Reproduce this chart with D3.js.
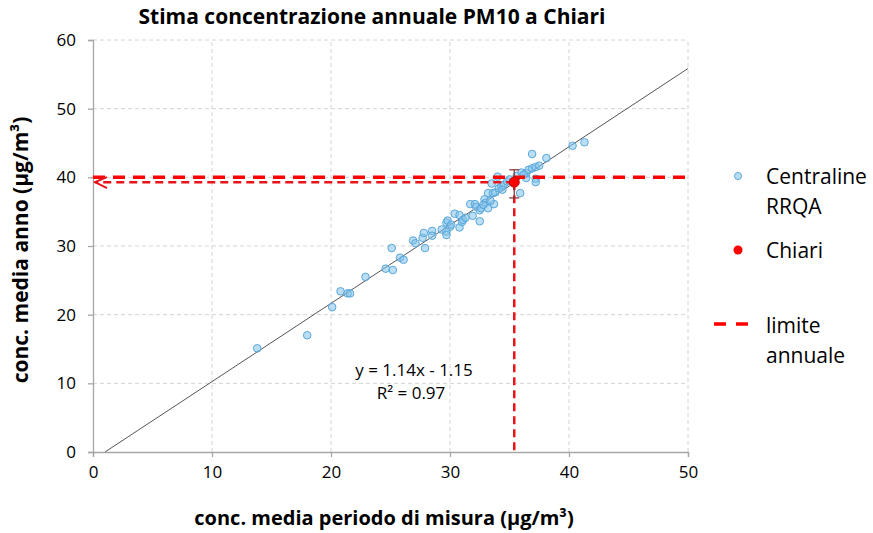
<!DOCTYPE html>
<html>
<head>
<meta charset="utf-8">
<script src="https://cdn.jsdelivr.net/npm/d3@7"></script>
<style>
  body { margin: 0; background: #fff; }
  text { font-family: "Open Sans", "Liberation Sans", sans-serif; fill: #000; }
</style>
</head>
<body>
<svg id="chart" width="873" height="533"></svg>
<script>
// stations RRQA: period mean (x) vs annual mean (y)
var stationX = [13.8, 18.0, 20.1, 20.8, 21.4, 21.6, 22.9, 24.6, 25.2, 25.1, 25.8, 26.1, 26.9, 27.1, 27.7, 27.8, 27.9, 28.5, 28.5, 29.3,
                29.7, 29.8, 29.7, 29.7, 30.0, 30.1, 30.4, 30.8, 30.8, 31.0, 31.1, 31.3, 31.7, 31.9, 32.1, 32.2, 32.5, 32.5, 32.6, 32.9,
                33.0, 33.2, 33.2, 33.5, 33.6, 33.8, 33.7, 34.0, 34.1, 34.3, 34.5, 34.8, 35.0, 35.9, 36.0, 36.4, 36.4, 36.6, 36.9, 36.9,
                37.2, 37.2, 37.2, 37.5, 38.1, 40.3, 41.3, 33.4, 32.8, 34.4, 35.6, 36.2];
var stationY = [15.1, 17.0, 21.1, 23.4, 23.1, 23.1, 25.5, 26.7, 26.5, 29.7, 28.3, 28.0, 30.8, 30.4, 31.2, 31.9, 29.7, 32.2, 31.5, 32.4,
                33.4, 33.7, 32.1, 31.6, 32.8, 33.1, 34.7, 34.5, 32.7, 33.5, 33.8, 34.1, 36.1, 34.4, 36.1, 35.7, 33.6, 35.2, 35.5, 36.8,
                36.3, 37.7, 35.5, 39.1, 37.7, 37.8, 36.1, 40.1, 38.4, 38.7, 38.9, 39.4, 39.7, 37.7, 40.7, 39.9, 40.6, 41.1, 41.3, 43.4,
                39.8, 39.3, 41.5, 41.7, 42.8, 44.6, 45.1, 36.6, 36.0, 38.2, 40.2, 40.4];

// Chiari estimate
var chiariX = 35.4;
var chiariY = 39.3;
var chiariErrLow = 37.0;
var chiariErrHigh = 41.1;

var limitValue = 40;
var trendSlope = 1.14;
var trendIntercept = -1.15;

var xTicks = [0, 10, 20, 30, 40, 50];
var yTicks = [0, 10, 20, 30, 40, 50, 60];

var svg = d3.select("#chart");

var x = d3.scaleLinear().domain([0, 50]).range([93, 688]);
var y = d3.scaleLinear().domain([0, 60]).range([452, 40]);

// grid
svg.append("g").selectAll("line").data(xTicks.slice(1)).enter().append("line")
    .attr("x1", function(d) { return x(d) }).attr("x2", function(d) { return x(d) })
    .attr("y1", y(0)).attr("y2", y(60))
    .attr("stroke", "#d4d4d4").attr("stroke-dasharray", "4,3");
svg.append("g").selectAll("line").data(yTicks.slice(1)).enter().append("line")
    .attr("x1", x(0)).attr("x2", x(50))
    .attr("y1", function(d) { return y(d) }).attr("y2", function(d) { return y(d) })
    .attr("stroke", "#d4d4d4").attr("stroke-dasharray", "4,3");

// axes
var xAxis = svg.append("g").attr("transform", "translate(0," + y(0) + ")")
    .call(d3.axisBottom(x).tickValues(xTicks).tickSize(5).tickPadding(9));
var yAxis = svg.append("g").attr("transform", "translate(" + x(0) + ",0)")
    .call(d3.axisLeft(y).tickValues(yTicks).tickSize(5).tickPadding(12));
[xAxis, yAxis].forEach(function(a) {
    a.attr("font-size", null).attr("font-family", null);
    a.selectAll("path, line").attr("stroke", "#a6a6a6").attr("stroke-width", 1.3);
    a.selectAll("text").style("font-size", "17px").attr("fill", "#000");
});

// trend line
var trendX0 = -trendIntercept / trendSlope;
svg.append("line")
    .attr("x1", x(trendX0)).attr("y1", y(0))
    .attr("x2", x(50)).attr("y2", y(trendSlope * 50 + trendIntercept))
    .attr("stroke", "#555").attr("stroke-width", 1);

// stations
var pts = stationX.map(function(d, i) { return {x: d, y: stationY[i]} });
svg.append("g").selectAll("circle").data(pts).enter().append("circle")
    .attr("cx", function(d) { return x(d.x) })
    .attr("cy", function(d) { return y(d.y) })
    .attr("r", 3.8)
    .attr("fill", "rgba(130,195,235,0.55)")
    .attr("stroke", "#5aa7da")
    .attr("stroke-width", 1);

// limit line
svg.append("line")
    .attr("x1", x(0)).attr("x2", x(50))
    .attr("y1", y(limitValue)).attr("y2", y(limitValue))
    .attr("stroke", "#ff0000").attr("stroke-width", 3.5).attr("stroke-dasharray", "12,8");

// projection lines
svg.append("line")
    .attr("x1", x(chiariX)).attr("x2", x(chiariX))
    .attr("y1", y(chiariY)).attr("y2", y(0))
    .attr("stroke", "#e8141a").attr("stroke-width", 2.5).attr("stroke-dasharray", "8,5");
svg.append("line")
    .attr("x1", x(chiariX)).attr("x2", x(0) + 2)
    .attr("y1", y(chiariY)).attr("y2", y(chiariY))
    .attr("stroke", "#e8141a").attr("stroke-width", 2.5).attr("stroke-dasharray", "8,5");
svg.append("path")
    .attr("d", "M" + (x(0) + 14) + "," + (y(chiariY) - 5) + "L" + (x(0) + 2) + "," + y(chiariY) + "L" + (x(0) + 14) + "," + (y(chiariY) + 6))
    .attr("fill", "none").attr("stroke", "#e8141a").attr("stroke-width", 2);

// error bar
var eb = svg.append("g").attr("stroke", "#8b3a3a").attr("stroke-width", 1.3);
eb.append("line").attr("x1", x(chiariX)).attr("x2", x(chiariX)).attr("y1", y(chiariErrHigh)).attr("y2", y(chiariErrLow));
eb.append("line").attr("x1", x(chiariX) - 5).attr("x2", x(chiariX) + 5).attr("y1", y(chiariErrHigh)).attr("y2", y(chiariErrHigh));
eb.append("line").attr("x1", x(chiariX) - 5).attr("x2", x(chiariX) + 5).attr("y1", y(chiariErrLow)).attr("y2", y(chiariErrLow));

svg.append("circle")
    .attr("cx", x(chiariX)).attr("cy", y(chiariY)).attr("r", 5)
    .attr("fill", "#ff0000").attr("stroke", "#c00000").attr("stroke-width", 1);

// equation
svg.append("text").attr("x", 414).attr("y", 376).attr("text-anchor", "middle")
    .style("font-size", "17px").text("y = 1.14x - 1.15");
svg.append("text").attr("x", 411).attr("y", 399).attr("text-anchor", "middle")
    .style("font-size", "17px").text("R² = 0.97");

// title + axis titles
svg.append("text").attr("x", 372).attr("y", 24).attr("text-anchor", "middle")
    .style("font-size", "21px").style("font-weight", "bold")
    .text("Stima concentrazione annuale PM10 a Chiari");
svg.append("text").attr("x", 384).attr("y", 525).attr("text-anchor", "middle")
    .style("font-size", "20px").style("font-weight", "bold")
    .text("conc. media periodo di misura (µg/m³)");
svg.append("text").attr("transform", "translate(28,250) rotate(-90)").attr("text-anchor", "middle")
    .style("font-size", "21px").style("font-weight", "bold")
    .text("conc. media anno (µg/m³)");

// legend
var lg = svg.append("g").style("font-size", "21px");
lg.append("circle").attr("cx", 738).attr("cy", 176).attr("r", 3.5)
    .attr("fill", "rgba(130,195,235,0.55)").attr("stroke", "#5aa7da");
lg.append("text").attr("x", 766).attr("y", 184).text("Centraline");
lg.append("text").attr("x", 766).attr("y", 214).text("RRQA");
lg.append("circle").attr("cx", 738).attr("cy", 250).attr("r", 4.5).attr("fill", "#ff0000");
lg.append("text").attr("x", 766).attr("y", 258).text("Chiari");
lg.append("line").attr("x1", 714).attr("x2", 750).attr("y1", 324).attr("y2", 324)
    .attr("stroke", "#ff0000").attr("stroke-width", 3.5).attr("stroke-dasharray", "12,10");
lg.append("text").attr("x", 766).attr("y", 333).text("limite");
lg.append("text").attr("x", 766).attr("y", 363).text("annuale");
</script>
</body>
</html>
